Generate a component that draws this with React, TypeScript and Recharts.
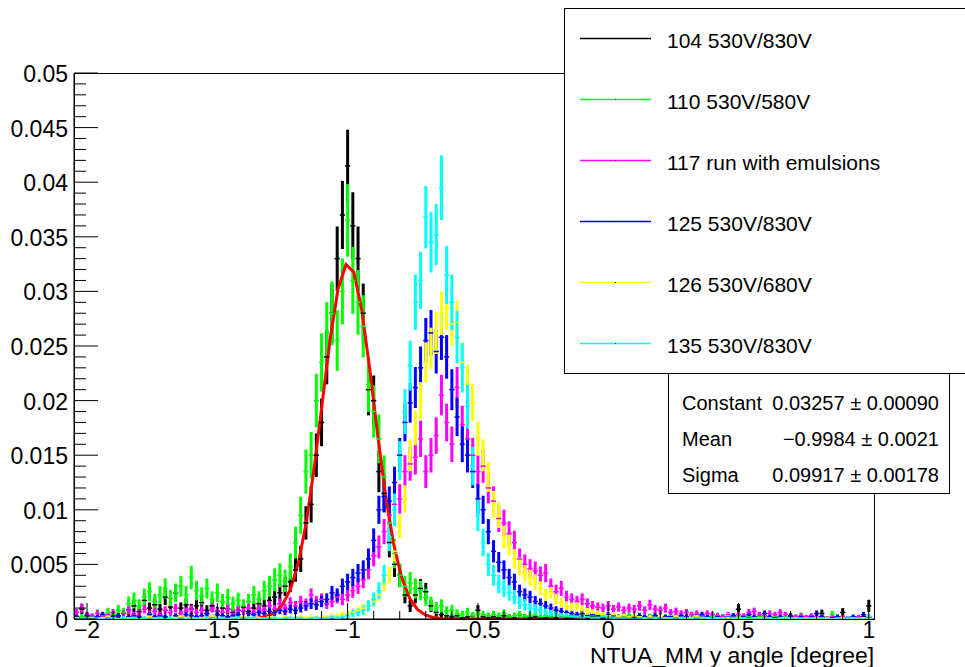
import React from 'react';
import { ComposedChart, Scatter, Line, XAxis, YAxis, ErrorBar } from 'recharts';

// ---------- layout ----------
const W = 965;
const H = 667;
const PLOT_LEFT = 74;
const PLOT_TOP = 73;
const PLOT_RIGHT = 874;
const PLOT_BOTTOM = 619;
const FONT = "'Liberation Sans', Arial, Helvetica, sans-serif";

// ---------- axes ----------
const X_MIN = -2.05;
const X_MAX = 1.02;
const Y_MIN = 0;
const Y_MAX = 0.05;
const X_MAJOR_TICKS = [-2, -1.5, -1, -0.5, 0, 0.5, 1];
const X_TICK_LABELS = ['\u22122', '\u22121.5', '\u22121', '\u22120.5', '0', '0.5', '1'];
const X_MINOR_STEP = 0.1;
const Y_MAJOR_TICKS = [0, 0.005, 0.01, 0.015, 0.02, 0.025, 0.03, 0.035, 0.04, 0.045, 0.05];
const Y_TICK_LABELS = ['0', '0.005', '0.01', '0.015', '0.02', '0.025', '0.03', '0.035', '0.04', '0.045', '0.05'];
const Y_MINOR_STEP = 0.001;
const X_TITLE = 'NTUA_MM y angle [degree]';

// ---------- histogram binning ----------
const BIN_START = -2.04; // centre of first bin
const BIN_WIDTH = 0.02;
const VALUE_UNIT = 1e-4; // series values below are in units of 1e-4

// ---------- series ----------
const SERIES_NAMES = ['104 530V/830V', '110 530V/580V', '117 run with emulsions', '125 530V/830V', '126 530V/680V', '135 530V/830V'];
const SERIES_COLORS = ['#000000', '#00ff00', '#ff00ff', '#0000ff', '#ffff00', '#00ffff'];
const SERIES_ENTRIES = [3800, 3300, 6000, 6000, 7000, 4500];

const RUN104 = [
  2, 9, 3, 2, 1, 3, 2, 4, 3, 5,
  8, 12, 7, 17, 10, 13, 9, 20, 11, 24,
  10, 13, 9, 12, 15, 8, 12, 7, 10, 9,
  6, 8, 11, 7, 10, 14, 12, 17, 20, 24,
  30, 34, 45, 55, 88, 105, 150, 180, 240, 280,
  330, 370, 415, 360, 330, 280, 210, 200, 135, 115,
  70, 50, 40, 22, 12, 22, 28, 25, 12, 6,
  4, 3, 2, 3, 1, 2, 3, 8, 2, 1,
  2, 1, 3, 2, 1, 4, 2, 1, 2, 1,
  1, 2, 1, 3, 1, 1, 2, 1, 1, 2,
  1, 1, 2, 1, 1, 1, 2, 1, 1, 1,
  2, 1, 1, 1, 1, 2, 1, 1, 1, 2,
  1, 1, 1, 1, 2, 1, 1, 9, 1, 1,
  1, 2, 1, 1, 1, 1, 1, 2, 1, 1,
  1, 1, 1, 5, 1, 1, 1, 6, 1, 1,
  1, 2, 12,
];

const RUN110 = [
  1, 2, 3, 2, 5, 3, 6, 4, 8, 6,
  14, 17, 12, 20, 25, 16, 22, 28, 19, 24,
  30, 22, 38, 26, 21, 28, 18, 24, 16, 20,
  14, 17, 12, 16, 22, 18, 26, 30, 36, 40,
  35, 48, 70, 95, 135, 150, 200, 235, 262, 280,
  255, 300, 365, 310, 290, 268, 215, 190, 165, 130,
  88, 60, 40, 30, 33, 28, 26, 20, 14, 10,
  12, 7, 8, 5, 4, 6, 3, 5, 4, 3,
  4, 3, 5, 2, 3, 4, 2, 3, 4, 2,
  3, 2, 4, 3, 2, 3, 2, 4, 2, 3,
  2, 3, 2, 4, 2, 2, 3, 2, 3, 2,
  2, 3, 2, 2, 3, 2, 1, 2, 3, 2,
  2, 1, 2, 3, 2, 1, 2, 2, 1, 2,
  1, 2, 3, 1, 2, 1, 2, 1, 2, 3,
  1, 2, 1, 2, 1, 4, 2, 1, 1, 2,
  1, 1, 1,
];

const RUN117 = [
  6, 10, 4, 3, 5, 2, 4, 6, 3, 5,
  8, 4, 6, 9, 5, 7, 4, 8, 6, 10,
  5, 7, 9, 6, 8, 5, 10, 7, 6, 9,
  5, 8, 7, 10, 6, 9, 8, 12, 9, 14,
  10, 15, 12, 16, 14, 22, 16, 18, 14, 16,
  20, 18, 22, 26, 30, 36, 45, 58, 66, 80,
  95, 105, 110, 135, 142, 148, 165, 135, 150, 168,
  205, 180, 160, 212, 178, 165, 150, 135, 140, 120,
  108, 92, 88, 78, 70, 55, 50, 46, 44, 40,
  42, 30, 25, 28, 20, 18, 16, 18, 14, 12,
  11, 10, 12, 9, 11, 8, 10, 9, 12, 8,
  13, 9, 8, 10, 6, 7, 5, 6, 4, 5,
  3, 5, 4, 3, 2, 4, 3, 4, 3, 6,
  7, 4, 3, 5, 4, 6, 4, 3, 2, 3,
  2, 3, 2, 2, 1, 2, 1, 2, 1, 1,
  2, 1, 1,
];

const RUN125 = [
  2, 1, 3, 1, 2, 4, 1, 2, 3, 1,
  2, 3, 2, 1, 4, 2, 3, 2, 1, 3,
  2, 4, 3, 2, 3, 5, 2, 4, 3, 2,
  3, 4, 2, 5, 4, 6, 5, 7, 6, 8,
  7, 9, 8, 10, 12, 14, 13, 16, 18, 24,
  22, 30, 34, 38, 42, 45, 55, 72, 100, 112,
  108, 125, 150, 180, 198, 212, 230, 255, 262, 245,
  258, 240, 210, 185, 160, 150, 135, 110, 100, 80,
  62, 52, 45, 38, 34, 25, 22, 20, 16, 14,
  12, 10, 8, 7, 6, 5, 4, 5, 3, 4,
  3, 2, 4, 3, 2, 3, 2, 1, 3, 2,
  2, 3, 1, 2, 2, 1, 3, 2, 1, 2,
  4, 2, 1, 2, 1, 2, 3, 1, 2, 4,
  2, 1, 5, 2, 1, 2, 1, 3, 1, 2,
  1, 2, 5, 2, 1, 1, 2, 1, 1, 2,
  1, 4, 2,
];

const RUN126 = [
  1, 0, 1, 1, 0, 1, 2, 1, 0, 1,
  1, 1, 0, 1, 2, 1, 1, 0, 1, 1,
  2, 1, 1, 0, 1, 1, 2, 1, 1, 0,
  1, 1, 2, 1, 1, 1, 0, 2, 1, 1,
  2, 1, 1, 2, 1, 2, 1, 2, 2, 3,
  3, 4, 5, 6, 8, 10, 12, 16, 22, 32,
  40, 62, 85, 110, 150, 175, 200, 235, 248, 262,
  280, 285, 270, 272, 235, 215, 198, 165, 150, 130,
  105, 95, 75, 68, 55, 48, 42, 38, 34, 28,
  22, 24, 18, 15, 12, 11, 12, 9, 7, 6,
  5, 4, 3, 4, 2, 3, 2, 3, 2, 1,
  2, 1, 2, 1, 1, 2, 1, 1, 1, 2,
  1, 1, 0, 1, 1, 1, 0, 1, 1, 0,
  1, 1, 0, 1, 0, 1, 1, 0, 1, 0,
  1, 0, 1, 0, 1, 0, 0, 1, 0, 1,
  0, 1, 0,
];

const RUN135 = [
  0, 1, 1, 0, 1, 0, 0, 1, 0, 1,
  0, 1, 0, 1, 0, 1, 1, 0, 1, 0,
  1, 0, 1, 1, 0, 1, 0, 1, 1, 0,
  1, 1, 0, 1, 1, 0, 1, 1, 1, 0,
  1, 1, 1, 1, 0, 1, 1, 1, 1, 2,
  1, 2, 3, 5, 6, 8, 12, 18, 26, 40,
  75, 100, 145, 190, 232, 290, 310, 368, 345, 352,
  395, 315, 290, 258, 230, 195, 140, 95, 70, 50,
  40, 32, 28, 24, 20, 15, 13, 10, 9, 8,
  6, 5, 4, 3, 3, 2, 2, 1, 2, 1,
  1, 2, 1, 1, 0, 1, 1, 0, 1, 1,
  0, 1, 1, 0, 1, 0, 1, 1, 0, 1,
  1, 0, 1, 0, 1, 3, 1, 0, 1, 0,
  1, 0, 1, 1, 0, 1, 0, 1, 0, 1,
  0, 1, 0, 1, 0, 0, 1, 0, 1, 0,
  1, 0, 2,
];

const SERIES_VALUES = [RUN104, RUN110, RUN117, RUN125, RUN126, RUN135];

// ---------- Gaussian fit (parameters from the stats box) ----------
const FIT_CONSTANT = 0.03257;
const FIT_MEAN = -0.9984;
const FIT_SIGMA = 0.09917;
const FIT_RANGE = [-2.04, 1.0];
const FIT_NPX = 100;
const FIT_COLOR = '#ff0000';
const STATS_ROWS = [
  ['Constant', '0.03257 \u00b1 0.00090'],
  ['Mean', '\u22120.9984 \u00b1 0.0021'],
  ['Sigma', '0.09917 \u00b1 0.00178'],
];

// ---------- derived tables ----------
const BIN_CENTERS = RUN104.map((_, i) => +(BIN_START + i * BIN_WIDTH).toFixed(4));
const SERIES_DATA = SERIES_VALUES.map((vals, s) =>
  vals.map((v, i) => {
    const y = v * VALUE_UNIT;
    return { x: BIN_CENTERS[i], y, err: Math.sqrt(y / SERIES_ENTRIES[s]) };
  })
);
const FIT_DATA = Array.from({ length: FIT_NPX + 1 }, (_, k) => {
  const x = FIT_RANGE[0] + (k * (FIT_RANGE[1] - FIT_RANGE[0])) / FIT_NPX;
  return { x, y: FIT_CONSTANT * Math.exp(-0.5 * ((x - FIT_MEAN) / FIT_SIGMA) ** 2) };
});

const X_ALL_TICKS: number[] = [];
for (let t = -2; t <= 1 + 1e-9; t += X_MINOR_STEP) X_ALL_TICKS.push(+t.toFixed(4));
const Y_ALL_TICKS: number[] = [];
for (let t = 0; t <= Y_MAX + 1e-9; t += Y_MINOR_STEP) Y_ALL_TICKS.push(+t.toFixed(5));

const PX_PER_X = (PLOT_RIGHT - PLOT_LEFT) / (X_MAX - X_MIN);
const HALF_BIN_PX = (BIN_WIDTH / 2) * PX_PER_X;

const XTick = (props: any) => {
  const { x, y, payload } = props;
  const idx = X_MAJOR_TICKS.findIndex((t) => Math.abs(t - payload.value) < 1e-6);
  const major = idx >= 0;
  return (
    <g>
      <line x1={x} x2={x} y1={y} y2={y - (major ? 16 : 8)} stroke="#000" strokeWidth={1} />
      {major && (
        <text x={x} y={y + 19} textAnchor="middle" fontSize={23} fill="#000" fontFamily={FONT}>
          {X_TICK_LABELS[idx]}
        </text>
      )}
    </g>
  );
};

const YTick = (props: any) => {
  const { x, y, payload } = props;
  const idx = Y_MAJOR_TICKS.findIndex((t) => Math.abs(t - payload.value) < 1e-7);
  const major = idx >= 0;
  return (
    <g>
      <line x1={x} x2={x + (major ? 24 : 12)} y1={y} y2={y} stroke="#000" strokeWidth={1} />
      {major && (
        <text x={x - 6} y={y + 9} textAnchor="end" fontSize={23} fill="#000" fontFamily={FONT}>
          {Y_TICK_LABELS[idx]}
        </text>
      )}
    </g>
  );
};

const makeBinShape = (color: string) => (props: any) => {
  const { cx, cy } = props;
  if (cx == null || cy == null) return <g />;
  return <line x1={cx - HALF_BIN_PX} x2={cx + HALF_BIN_PX} y1={cy} y2={cy} stroke={color} strokeWidth={1.5} />;
};

export default function App() {
  return (
    <div
      style={{
        position: 'absolute',
        left: 0,
        top: 0,
        width: W,
        height: H,
        background: '#fff',
        overflow: 'hidden',
        fontFamily: FONT,
      }}
    >
      <ComposedChart width={W} height={H} margin={{ top: PLOT_TOP, right: W - PLOT_RIGHT, bottom: 0, left: 0 }}>
        <XAxis
          type="number"
          dataKey="x"
          domain={[X_MIN, X_MAX]}
          ticks={X_ALL_TICKS}
          tick={XTick}
          tickSize={0}
          tickMargin={0}
          interval={0}
          height={H - PLOT_BOTTOM}
          stroke="#000"
          allowDataOverflow
        />
        <YAxis
          type="number"
          domain={[Y_MIN, Y_MAX]}
          ticks={Y_ALL_TICKS}
          tick={YTick}
          tickSize={0}
          tickMargin={0}
          interval={0}
          width={PLOT_LEFT}
          stroke="#000"
          allowDataOverflow
        />
        {SERIES_DATA.map((d, s) => (
          <Scatter
            key={SERIES_NAMES[s] + s}
            name={SERIES_NAMES[s]}
            data={d}
            dataKey="y"
            shape={makeBinShape(SERIES_COLORS[s])}
            isAnimationActive={false}
          >
            <ErrorBar dataKey="err" direction="y" width={0} stroke={SERIES_COLORS[s]} strokeWidth={3} isAnimationActive={false} />
          </Scatter>
        ))}
        <Line
          data={FIT_DATA}
          dataKey="y"
          type="linear"
          stroke={FIT_COLOR}
          strokeWidth={3}
          dot={false}
          activeDot={false}
          isAnimationActive={false}
        />
      </ComposedChart>

      {/* frame + axis title */}
      <svg width={W} height={H} style={{ position: 'absolute', left: 0, top: 0, pointerEvents: 'none' }}>
        <rect
          x={PLOT_LEFT + 0.5}
          y={PLOT_TOP + 0.5}
          width={PLOT_RIGHT - PLOT_LEFT}
          height={PLOT_BOTTOM - PLOT_TOP}
          fill="none"
          stroke="#000"
          strokeWidth={1}
        />
        <text
          x={PLOT_RIGHT}
          y={663}
          textAnchor="end"
          fontSize={22}
          textLength={284}
          lengthAdjust="spacingAndGlyphs"
          fill="#000"
          fontFamily={FONT}
        >
          {X_TITLE}
        </text>
      </svg>

      {/* legend */}
      <svg width={420} height={366} style={{ position: 'absolute', left: 564, top: 8 }}>
        <rect x={0.5} y={0.5} width={440} height={365} fill="#fff" stroke="#000" strokeWidth={1} />
        {SERIES_NAMES.map((name, s) => {
          const cy = 30.5 + s * 61;
          return (
            <g key={name + s}>
              <line x1={16} x2={87} y1={cy} y2={cy} stroke={SERIES_COLORS[s]} strokeWidth={1.5} />
              {s > 0 && <rect x={51} y={cy - 0.5} width={1} height={1} fill="#000" />}
              <text x={103} y={cy + 9} fontSize={21} fill="#000" fontFamily={FONT}>
                {name}
              </text>
            </g>
          );
        })}
      </svg>

      {/* fit statistics box */}
      <svg width={284} height={122} style={{ position: 'absolute', left: 667, top: 372 }}>
        <rect x={1.5} y={1.5} width={281} height={120} fill="#fff" stroke="#000" strokeWidth={1} />
        {STATS_ROWS.map((row, r) => (
          <g key={row[0]}>
            <text x={15} y={38 + r * 36} fontSize={20} fill="#000" fontFamily={FONT}>
              {row[0]}
            </text>
            <text x={272} y={38 + r * 36} fontSize={20} textAnchor="end" fill="#000" fontFamily={FONT}>
              {row[1]}
            </text>
          </g>
        ))}
      </svg>
    </div>
  );
}
